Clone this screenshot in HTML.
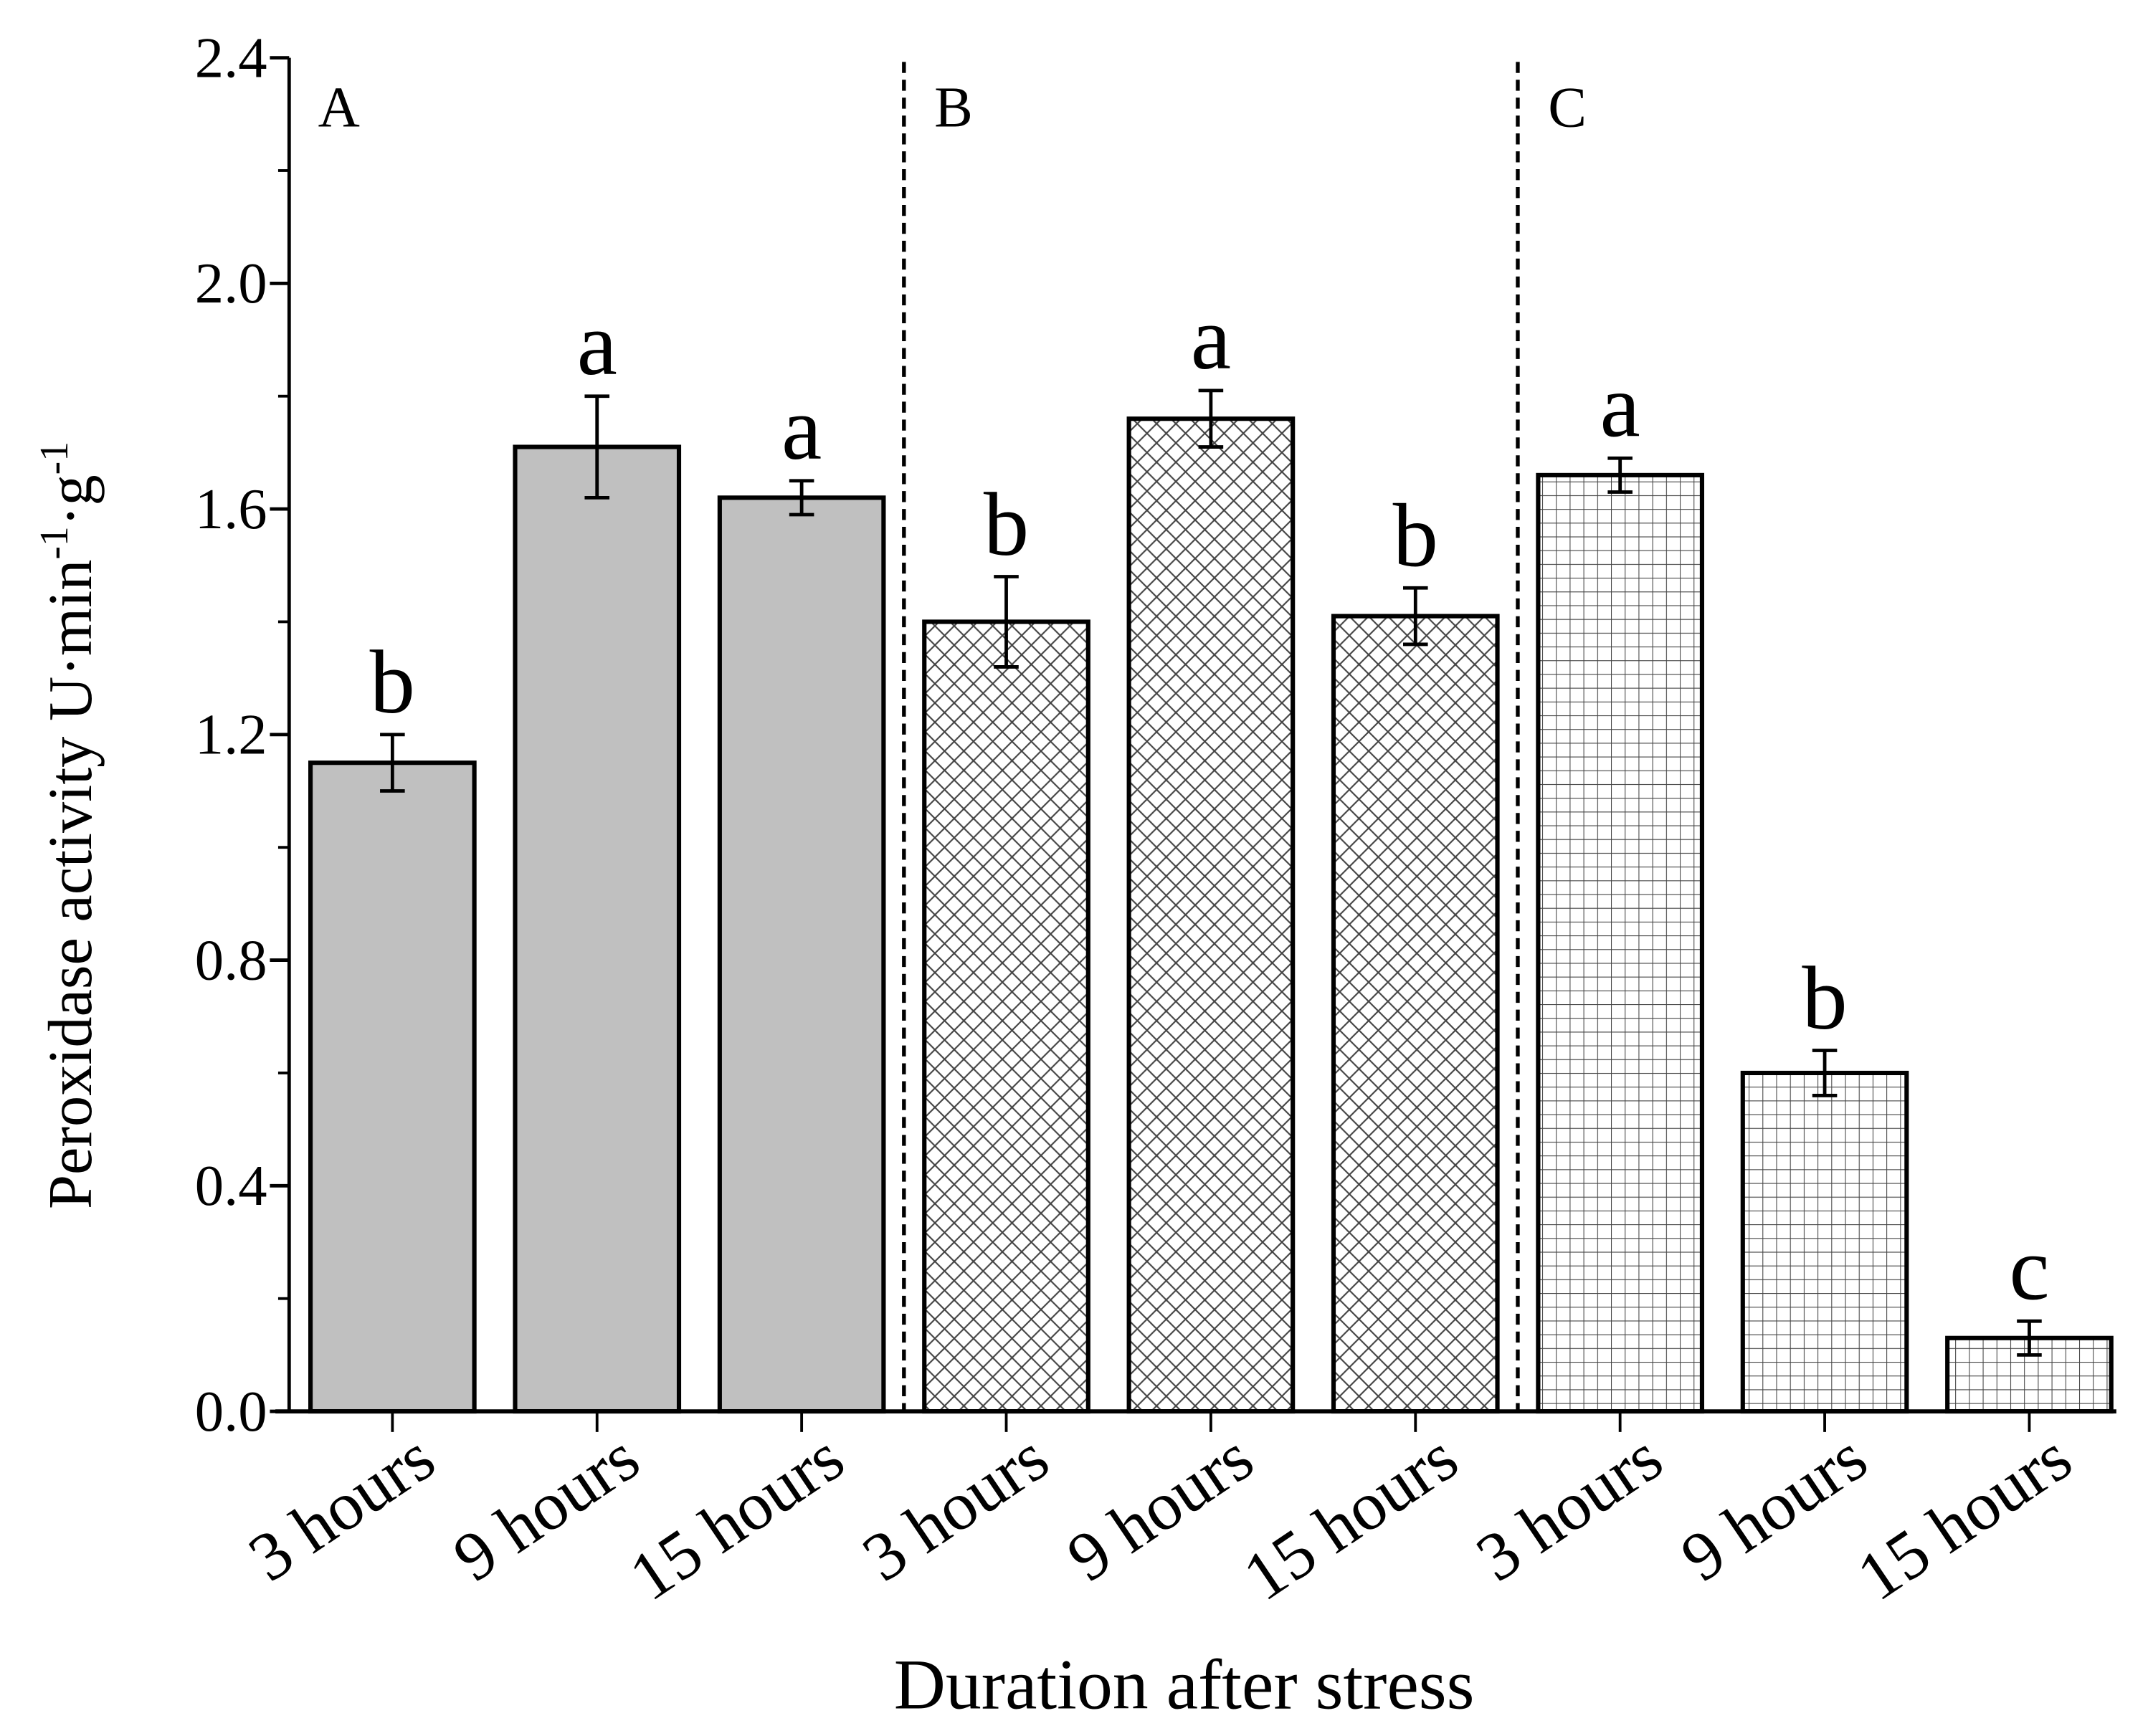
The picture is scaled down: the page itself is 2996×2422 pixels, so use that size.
<!DOCTYPE html>
<html><head><meta charset="utf-8"><style>html,body{margin:0;padding:0;background:#fff}svg{display:block}</style></head>
<body>
<svg id="chart" xmlns="http://www.w3.org/2000/svg" width="2996" height="2422" viewBox="0 0 1560 1262" preserveAspectRatio="none" font-family="'Liberation Serif', serif">
<defs>
<pattern id="cross" patternUnits="userSpaceOnUse" width="14" height="14"><path d="M0,0L14,14M14,0L0,14" stroke="#444" stroke-width="1.1"/></pattern>
<pattern id="grid" patternUnits="userSpaceOnUse" width="10" height="10"><path d="M0,0H10M0,0V10" stroke="#444" stroke-width="1.1"/></pattern>
</defs>
<g id="plot"></g>
</svg>
<script>
const categories = ["3 hours","9 hours","15 hours","3 hours","9 hours","15 hours","3 hours","9 hours","15 hours"];
const groups = ["A","A","A","B","B","B","C","C","C"];
const values = [1.15,1.71,1.62,1.40,1.76,1.41,1.66,0.60,0.13];
const errors = [0.05,0.09,0.03,0.08,0.05,0.05,0.03,0.04,0.03];
const letters = ["b","a","a","b","a","b","a","b","c"];
const yTicks = [0.0,0.4,0.8,1.2,1.6,2.0,2.4];
const yTickLabels = ["0.0","0.4","0.8","1.2","1.6","2.0","2.4"];
const panelLabels = ["A","B","C"];

const NS="http://www.w3.org/2000/svg";
const g=document.getElementById('plot');
const x0=210, y0=1026, yTop=42, yMax=2.4, firstX=285, step=148.6, bw=119;
const ys=v=>y0-(v/yMax)*(y0-yTop);
const xs=i=>firstX+i*step;
function mk(t,a){const e=document.createElementNS(NS,t);for(const k in a)e.setAttribute(k,a[k]);g.appendChild(e);return e;}
const fills={A:"#c0c0c0",B:"url(#cross)",C:"url(#grid)"};

values.forEach((v,i)=>{
  let r=mk('rect',{x:xs(i)-bw/2,y:ys(v),width:bw,height:y0-ys(v),fill:groups[i]==="A"?fills.A:"#fff",stroke:"none"});
  
  
  let b=mk('rect',{x:xs(i)-bw/2,y:ys(v),width:bw,height:y0-ys(v),fill:fills[groups[i]],stroke:"#000","stroke-width":3.2});
  
  
  const e=errors[i], top=ys(v+e), bot=ys(v-e);
  let eb=mk('path',{d:`M${xs(i)},${top}V${bot}M${xs(i)-9},${top}H${xs(i)+9}M${xs(i)-9},${bot}H${xs(i)+9}`,stroke:"#000","stroke-width":2.5,fill:"none"});
  
  
  let l=mk('text',{x:xs(i),y:top-16,"text-anchor":"middle","font-size":66});
  l.textContent=letters[i];
  
  
  let tk=mk('line',{x1:xs(i),y1:y0,x2:xs(i),y2:y0+15,stroke:"#000","stroke-width":2});
  
  
  let xl=mk('text',{x:0,y:0,"text-anchor":"end","font-size":50,transform:`translate(${xs(i)+34},${y0+42}) rotate(-34)`});
  xl.textContent=categories[i];
  
  
});
[2.5,5.5].forEach((p,j)=>{
  const x=firstX+p*step;
  let d=mk('line',{x1:x,y1:45,x2:x,y2:y0,stroke:"#000","stroke-width":2.8,"stroke-dasharray":"8,5"});
  
  
});
panelLabels.forEach((p,j)=>{
  const x=j===0?231:firstX+(j*3-0.5)*step+22;
  let t=mk('text',{x:x,y:92,"font-size":42});
  t.textContent=p;
  
  
});
let ya=mk('line',{x1:x0,y1:yTop,x2:x0,y2:y0+1,stroke:"#000","stroke-width":2.5});


let xa=mk('line',{x1:x0-10,y1:y0,x2:1537,y2:y0,stroke:"#000","stroke-width":3});


yTicks.forEach((v,i)=>{
  let t=mk('line',{x1:x0-14,y1:ys(v),x2:x0,y2:ys(v),stroke:"#000","stroke-width":2.5});
  
  
  if(i<yTicks.length-1){
    let m=mk('line',{x1:x0-8,y1:ys(v+0.2),x2:x0,y2:ys(v+0.2),stroke:"#000","stroke-width":2});
    
    
  }
  let l=mk('text',{x:x0-16,y:ys(v)+14,"text-anchor":"end","font-size":42});
  l.textContent=yTickLabels[i];
  
  
});
let yt=mk('text',{x:0,y:0,"text-anchor":"middle","font-size":45,transform:"translate(66,600) rotate(-90)"});
yt.innerHTML='Peroxidase activity U·min<tspan dy="-17" font-size="29">-1</tspan><tspan dy="17">·g</tspan><tspan dy="-17" font-size="29">-1</tspan>';


let xt=mk('text',{x:860,y:1242,"text-anchor":"middle","font-size":52});
xt.textContent='Duration after stress';


</script>
</body></html>
